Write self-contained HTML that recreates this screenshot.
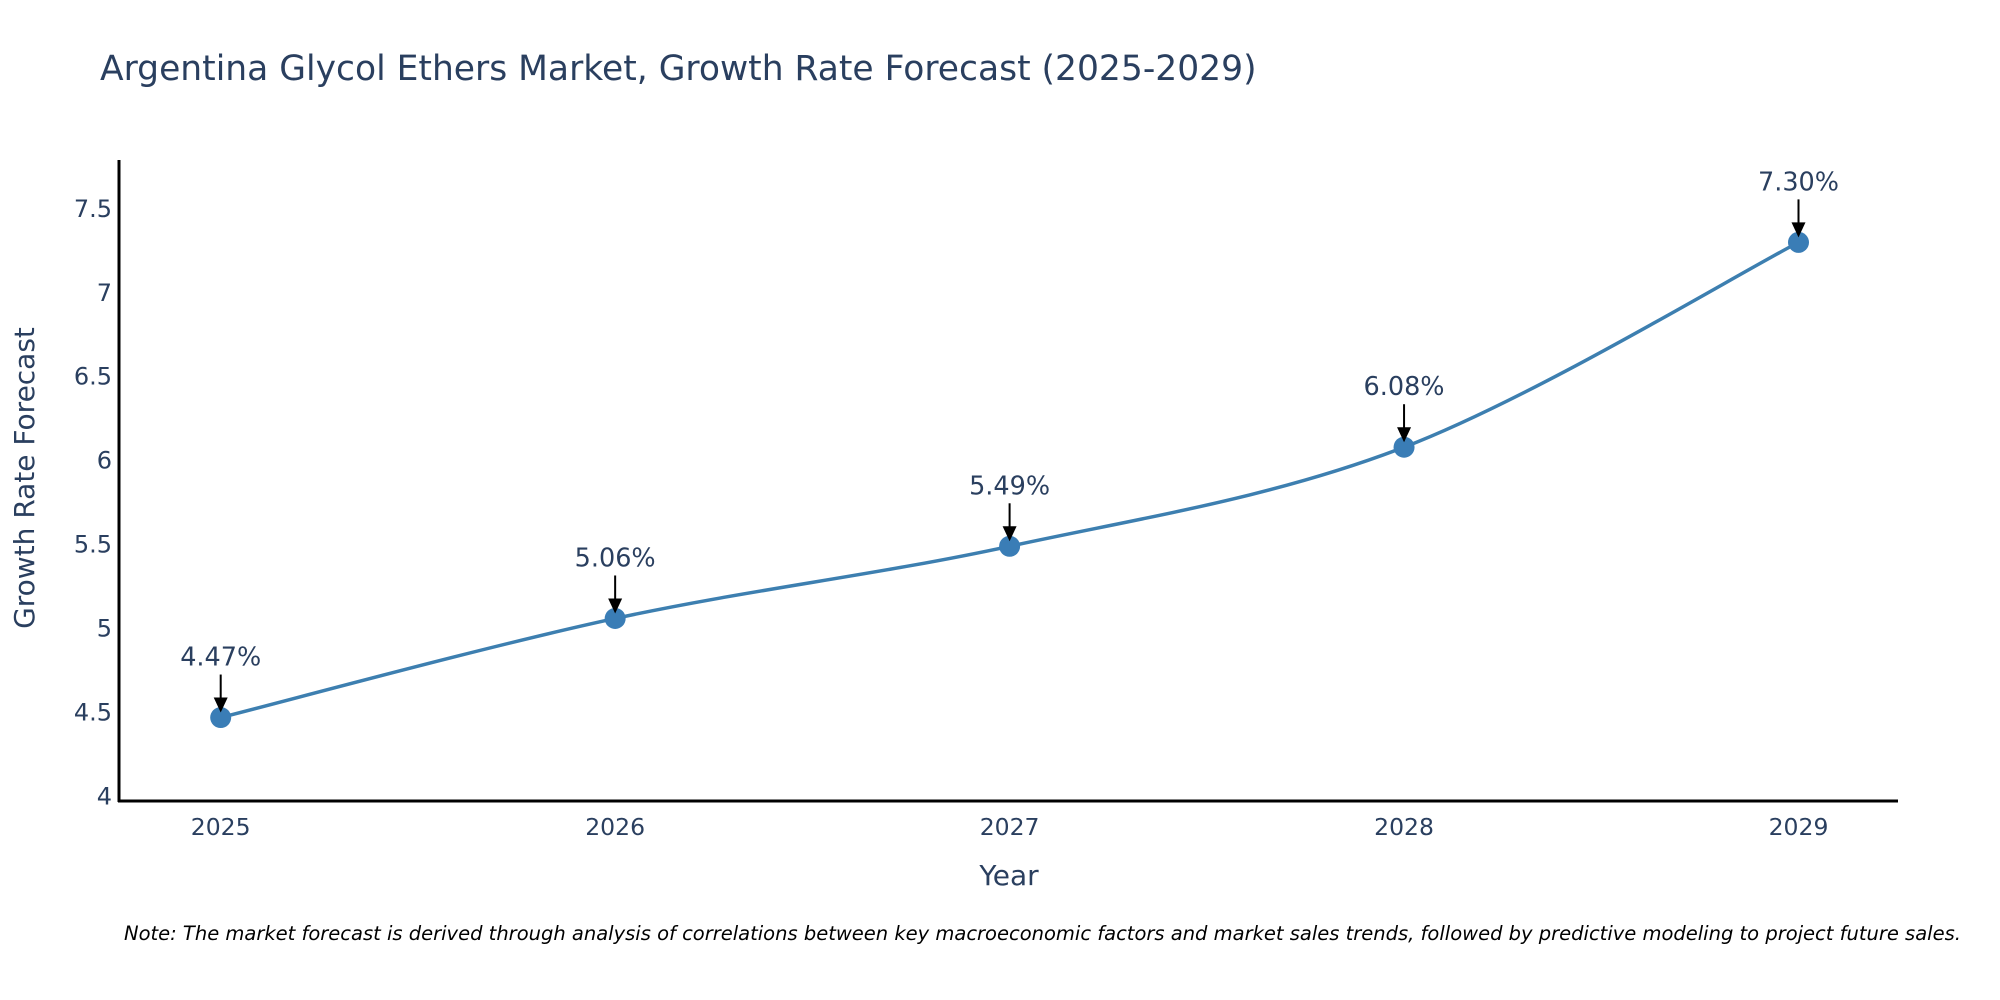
<!DOCTYPE html>
<html><head><meta charset="utf-8"><style>
body{margin:0;background:#fff;}
svg{display:block;font-family:"DejaVu Sans","Liberation Sans",sans-serif;}
</style></head><body>
<svg id="chart" width="2000" height="1000" viewBox="0 0 2000 1000">
<text x="100" y="80" font-size="34.5" fill="#2a3f5f">Argentina Glycol Ethers Market, Growth Rate Forecast (2025-2029)</text>
<g id="yticks"></g>
<g id="xticks"></g>
<path id="line" fill="none" stroke="#3d7fb0" stroke-width="3.5"/>
<g id="points"></g>
<g id="annots"></g>
<line x1="119" y1="160" x2="119" y2="802" stroke="#000" stroke-width="3"/>
<line x1="118" y1="801" x2="1898" y2="801" stroke="#000" stroke-width="3"/>
<text transform="translate(34,478) rotate(-90)" text-anchor="middle" font-size="28" fill="#2a3f5f">Growth Rate Forecast</text>
<text x="1009" y="885" text-anchor="middle" font-size="28" fill="#2a3f5f">Year</text>
<text x="124" y="940" font-size="19.5" font-style="italic" fill="#000">Note: The market forecast is derived through analysis of correlations between key macroeconomic factors and market sales trends, followed by predictive modeling to project future sales.</text>
</svg>
<script>
const years = ["2025","2026","2027","2028","2029"];
const values = [4.47, 5.06, 5.49, 6.08, 7.30];
const labels = ["4.47%","5.06%","5.49%","6.08%","7.30%"];
const yTicks = [4, 4.5, 5, 5.5, 6, 6.5, 7, 7.5];
const yTickLabels = ["4","4.5","5","5.5","6","6.5","7","7.5"];

const NS = "http://www.w3.org/2000/svg";
function xs(i){ return 220.7 + i * 394.45; }
function ys(v){ return 712.5 - (v - 4.5) * 167.9; }
function mk(tag, attrs, parent){ const e=document.createElementNS(NS,tag); for(const k in attrs) e.setAttribute(k,attrs[k]); parent.appendChild(e); return e; }

const yg=document.getElementById('yticks');
yTicks.forEach((t,i)=>{
  const el=mk('text',{x:112,y:ys(t)+8,'text-anchor':'end','font-size':24,fill:'#2a3f5f'},yg);
  el.textContent=yTickLabels[i];
  
  
});
const xg=document.getElementById('xticks');
years.forEach((y,i)=>{
  const el=mk('text',{x:xs(i),y:835,'text-anchor':'middle','font-size':23.5,fill:'#2a3f5f'},xg);
  el.textContent=y;
  
  
});

const P=values.map((v,i)=>[xs(i),ys(v)]);
let d=`M${P[0][0]},${P[0][1]}`;
const s=1/6;
for(let i=0;i<P.length-1;i++){
  const p0=P[Math.max(i-1,0)],p1=P[i],p2=P[i+1],p3=P[Math.min(i+2,P.length-1)];
  const c1=[p1[0]+(p2[0]-p0[0])*s,p1[1]+(p2[1]-p0[1])*s];
  const c2=[p2[0]-(p3[0]-p1[0])*s,p2[1]-(p3[1]-p1[1])*s];
  d+=` C${c1[0]},${c1[1]} ${c2[0]},${c2[1]} ${p2[0]},${p2[1]}`;
}
document.getElementById('line').setAttribute('d',d);

const pg=document.getElementById('points');
const ag=document.getElementById('annots');
P.forEach((p,i)=>{
  const c=mk('circle',{cx:p[0],cy:p[1],r:10.5,fill:'#3a7db6'},pg);
  
  
  const ln=mk('line',{x1:p[0],y1:p[1]-43,x2:p[0],y2:p[1]-18,stroke:'#000','stroke-width':2},ag);
  
  
  const hd=mk('polygon',{points:`${p[0]-7},${p[1]-20} ${p[0]+7},${p[1]-20} ${p[0]},${p[1]-5}`,fill:'#000'},ag);
  
  
  const t=mk('text',{x:p[0],y:p[1]-52,'text-anchor':'middle','font-size':25.5,fill:'#2a3f5f'},ag);
  t.textContent=labels[i];
  
  
});
</script>
</body></html>
